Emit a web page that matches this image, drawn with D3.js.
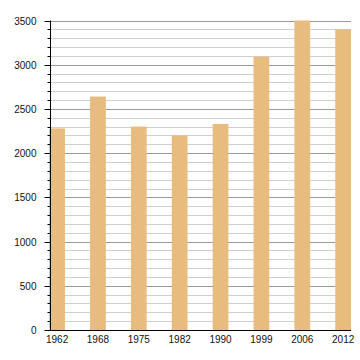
<!DOCTYPE html>
<html>
<head>
<meta charset="utf-8">
<script src="https://cdn.jsdelivr.net/npm/d3@7"></script>
<style>
html,body{margin:0;padding:0;background:#fff;}
svg{display:block;}
text{font-family:"Liberation Sans",Arial,sans-serif;font-size:10px;fill:#111;}
</style>
</head>
<body>
<svg id="chart" width="360" height="360"></svg>
<script>
const categories = ["1962","1968","1975","1982","1990","1999","2006","2012"];
const values = [2280, 2640, 2300, 2200, 2330, 3090, 3500, 3400];
const majorTicks = [0,500,1000,1500,2000,2500,3000,3500];
const minorTicks = d3.range(0, 3501, 100);

const svg = d3.select("#chart");
const mLeft = 50, mRight = 351, mTop = 20.5, mBottom = 330;

const x = d3.scaleBand().domain(categories).range([49.2, mRight]).paddingInner(0.615).paddingOuter(0);
const y = d3.scaleLinear().domain([0, 3500]).range([mBottom, mTop]);

// minor gridlines
svg.append("g").selectAll("line").data(minorTicks.filter(t => t % 500 !== 0)).join("line")
  .attr("x1", mLeft).attr("x2", mRight)
  .attr("y1", d => Math.round(y(d)) + 0.5).attr("y2", d => Math.round(y(d)) + 0.5)
  .attr("stroke", "#cfcfcf").attr("stroke-width", 1);
// major gridlines
svg.append("g").selectAll("line").data(majorTicks.filter(t => t > 0)).join("line")
  .attr("x1", mLeft).attr("x2", mRight)
  .attr("y1", d => Math.round(y(d)) + 0.5).attr("y2", d => Math.round(y(d)) + 0.5)
  .attr("stroke", "#999").attr("stroke-width", 1);

// bars
svg.append("g").selectAll("rect").data(values).join("rect")
  .attr("x", (d, i) => x(categories[i]))
  .attr("width", x.bandwidth())
  .attr("y", d => y(d))
  .attr("height", d => mBottom - y(d))
  .attr("fill", "#e8bb7f");

// y axis minor ticks
const yMinor = svg.append("g").attr("transform", `translate(${mLeft + 0.5},0)`)
  .call(d3.axisLeft(y).tickValues(minorTicks).tickSize(3).tickFormat(""));
yMinor.select(".domain").remove();
yMinor.selectAll(".tick").attr("transform", d => `translate(0,${Math.round(y(d)) + 0.5})`);

// y axis major
const yAxis = svg.append("g").attr("transform", `translate(${mLeft + 0.5},0)`)
  .call(d3.axisLeft(y).tickValues(majorTicks).tickSize(6).tickPadding(8).tickSizeOuter(0).tickFormat(d3.format("d")));
yAxis.selectAll(".tick").attr("transform", d => `translate(0,${Math.round(y(d)) + 0.5})`);
yAxis.select(".domain").attr("d", `M0,${mTop}V${mBottom}`);
yAxis.selectAll("text").style("font-size", "10px");

// x axis
const xAxis = svg.append("g").attr("transform", `translate(0,${mBottom + 0.5})`)
  .call(d3.axisBottom(x).tickSize(0).tickPadding(5).tickSizeOuter(0));
xAxis.select(".domain").attr("d", `M${mLeft},0H${mRight}`);
xAxis.selectAll("text").style("font-size", "10px");
svg.selectAll(".domain").attr("stroke", "#000");
svg.selectAll(".tick line").attr("stroke", "#000");
</script>
</body>
</html>
